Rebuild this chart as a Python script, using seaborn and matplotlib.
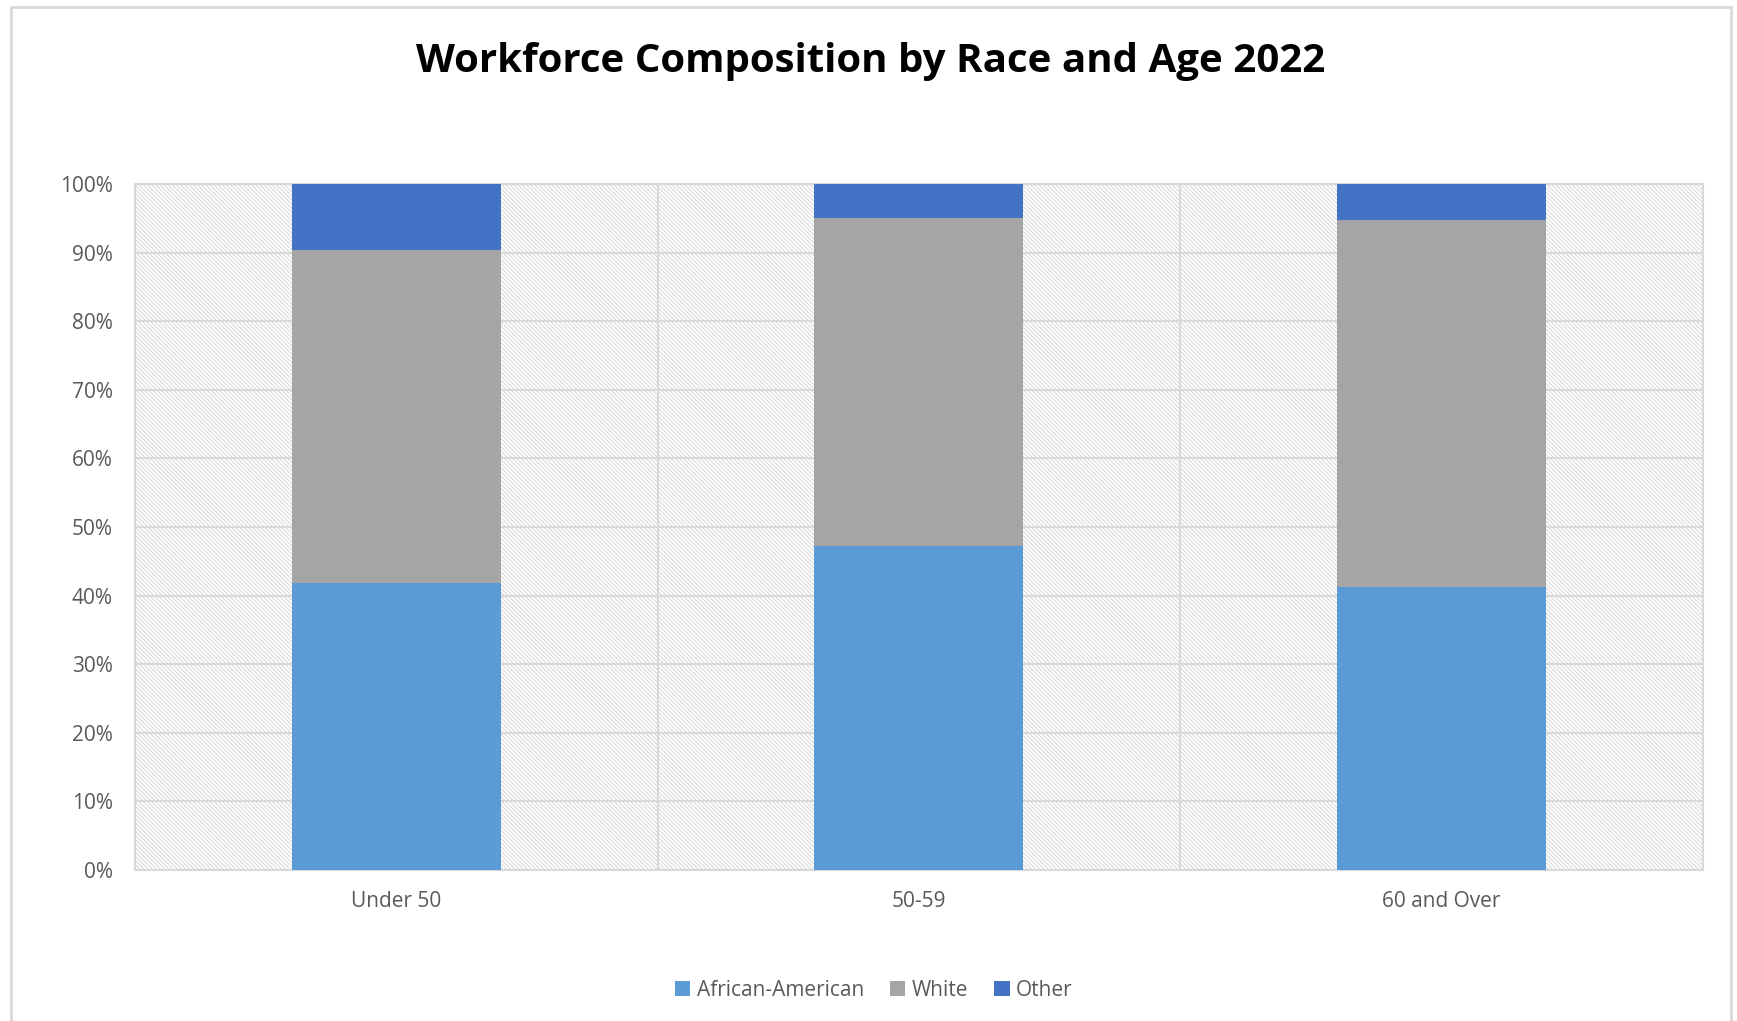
import matplotlib
matplotlib.use("Agg")
import matplotlib.pyplot as plt
from matplotlib.patches import Rectangle, Patch
import seaborn as sns
import pandas as pd

# Workforce shares (%) by age group
age_groups = ["Under 50", "50-59", "60 and Over"]
african_american = [41.9, 47.3, 41.2]
white = [48.5, 47.8, 53.6]
other = [9.6, 4.9, 5.2]

series_names = ["African-American", "White", "Other"]
series_colors = ["#5B9BD5", "#A5A5A5", "#4472C4"]
y_ticks = [0, 10, 20, 30, 40, 50, 60, 70, 80, 90, 100]
y_tick_labels = [f"{v}%" for v in y_ticks]

sns.set_theme(style="white")
plt.rcParams["font.family"] = ["Open Sans", "DejaVu Sans"]
plt.rcParams["hatch.linewidth"] = 0.8

fig = plt.figure(figsize=(17.37, 10.21), dpi=100)
ax = fig.add_axes([0.0777, 0.1479, 0.9027, 0.6719])

# Chart border
fig.patches.append(Rectangle((11 / 1737, -0.05), (1731 - 11) / 1737, 1.05 - 7 / 1021,
                             transform=fig.transFigure, fill=False,
                             edgecolor="#D9D9D9", linewidth=2, zorder=0))

# Finely hatched plot-area background
ax.add_patch(Rectangle((0, 0), 1, 1, transform=ax.transAxes, facecolor="white",
                       edgecolor="#DADADA", hatch="\\" * 8, linewidth=0, zorder=0))

df = pd.DataFrame({"age": age_groups, "aa": african_american,
                   "white": white, "other": other})
df["aa_white"] = df["aa"] + df["white"]
df["total"] = df["aa_white"] + df["other"]

# Stacked bars drawn as overlapping cumulative layers
for col, color in [("total", series_colors[2]), ("aa_white", series_colors[1]),
                   ("aa", series_colors[0])]:
    sns.barplot(data=df, x="age", y=col, color=color, width=0.4,
                saturation=1, linewidth=0, ax=ax, zorder=3)

ax.set_xlim(-0.5, 2.5)
ax.set_ylim(0, 100)
ax.set_yticks(y_ticks)
ax.set_yticklabels(y_tick_labels)
ax.set_xticks([0.5, 1.5], minor=True)
ax.set_xlabel("")
ax.set_ylabel("")

ax.grid(axis="y", which="major", color="#D9D9D9", linewidth=1.5, zorder=1)
ax.grid(axis="x", which="minor", color="#D9D9D9", linewidth=1.5, zorder=1)
ax.grid(axis="x", which="major", visible=False)
ax.set_axisbelow(True)

for side, spine in ax.spines.items():
    spine.set_visible(True)
    spine.set_color("#D9D9D9")
    spine.set_linewidth(1.5)

ax.tick_params(axis="both", which="both", length=0, labelsize=15, labelcolor="#595959")
ax.tick_params(axis="y", pad=16)
ax.tick_params(axis="x", pad=15)

fig.text(0.5015, 0.9397, "Workforce Composition by Race and Age 2022", ha="center",
         va="center", fontsize=29, fontweight="bold", color="black")

handles = [Patch(facecolor=c, edgecolor="none") for c in series_colors]
fig.legend(handles, series_names, loc="center", bbox_to_anchor=(0.503, 0.030), ncol=3,
           frameon=False, fontsize=15, labelcolor="#595959", handlelength=0.75,
           handleheight=0.75, handletextpad=0.3, columnspacing=1.25)

fig.savefig("out.png", dpi=100)
